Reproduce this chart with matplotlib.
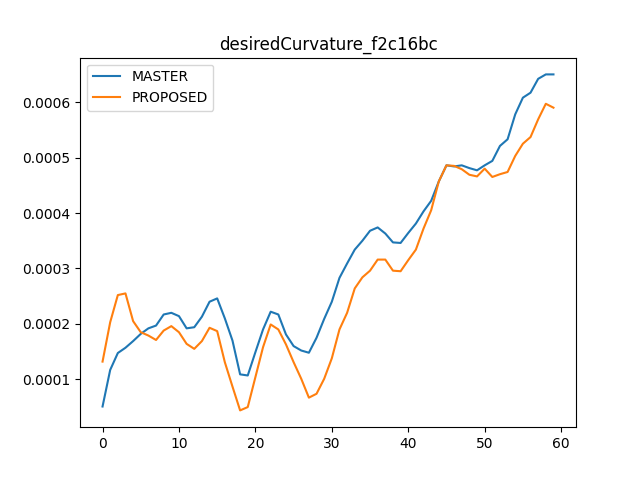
import matplotlib
matplotlib.use("Agg")
import matplotlib.pyplot as plt

title = "desiredCurvature_f2c16bc"
master = [0.51, 1.17, 1.475, 1.57, 1.69, 1.82, 1.92, 1.97, 2.17, 2.20,
          2.14, 1.92, 1.94, 2.13, 2.40, 2.46, 2.10, 1.70, 1.09, 1.07,
          1.49, 1.90, 2.22, 2.17, 1.81, 1.60, 1.52, 1.48, 1.75, 2.09,
          2.40, 2.83, 3.09, 3.34, 3.50, 3.68, 3.74, 3.63, 3.47, 3.46,
          3.64, 3.81, 4.03, 4.22, 4.57, 4.86, 4.84, 4.86, 4.81, 4.77,
          4.86, 4.94, 5.21, 5.33, 5.78, 6.08, 6.17, 6.42, 6.50, 6.50]
proposed = [1.32, 2.03, 2.52, 2.55, 2.05, 1.85, 1.79, 1.71, 1.88, 1.96,
            1.85, 1.64, 1.55, 1.69, 1.93, 1.87, 1.31, 0.87, 0.44, 0.50,
            1.04, 1.58, 1.99, 1.90, 1.63, 1.31, 1.01, 0.67, 0.74, 1.01,
            1.38, 1.90, 2.20, 2.64, 2.84, 2.96, 3.16, 3.16, 2.96, 2.95,
            3.15, 3.34, 3.72, 4.05, 4.57, 4.86, 4.85, 4.79, 4.69, 4.66,
            4.80, 4.65, 4.70, 4.74, 5.03, 5.25, 5.37, 5.69, 5.97, 5.90]
scale = 1e-4

fig, ax = plt.subplots(figsize=(6.4, 4.8), dpi=100)
ax.plot(range(len(master)), [v * scale for v in master], label="MASTER")
ax.plot(range(len(proposed)), [v * scale for v in proposed], label="PROPOSED")
ax.set_title(title)
ax.legend(loc="upper left")
fig.savefig("out.png")
